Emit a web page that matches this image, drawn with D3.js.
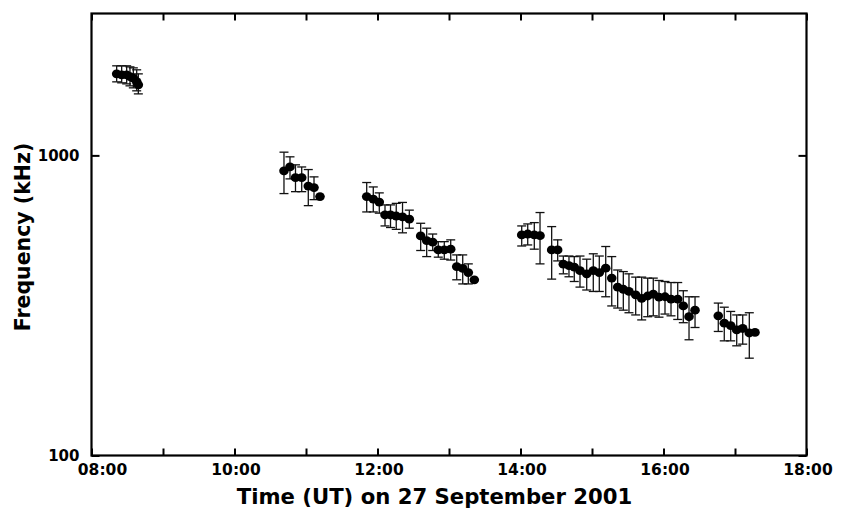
<!DOCTYPE html>
<html><head><meta charset="utf-8">
<script src="https://cdn.jsdelivr.net/npm/d3@7"></script>
<style>
html,body{margin:0;padding:0;background:#fff;}
svg text{font-family:"DejaVu Sans",sans-serif;font-weight:bold;fill:#000;}
</style></head>
<body><svg id="c" width="842" height="512"></svg>
<script>
// Decimal hours UT on 27 September 2001
const times = [
  8.352, 8.422, 8.492, 8.538, 8.585, 8.632, 8.655,
  10.692, 10.776, 10.853, 10.940, 11.032, 11.112, 11.196,
  11.849, 11.941, 12.025, 12.105, 12.182, 12.262, 12.350, 12.445,
  12.604, 12.688, 12.772, 12.850, 12.934, 13.024, 13.108, 13.192, 13.270, 13.354,
  14.017, 14.101, 14.193, 14.273,
  14.436, 14.520, 14.599, 14.678, 14.752, 14.832, 14.926, 15.018, 15.102, 15.192,
  15.276, 15.359, 15.438, 15.517, 15.611, 15.695, 15.779, 15.857, 15.937, 16.021,
  16.105, 16.199, 16.277, 16.357, 16.441,
  16.766, 16.850, 16.940, 17.024, 17.108, 17.200, 17.280
];
// Frequency (kHz)
const freqs = [
  1869, 1855, 1855, 1831, 1808, 1762, 1718,
  888, 915, 843, 843, 790, 781, 729,
  729, 715, 699, 634, 633, 628, 624, 613,
  539, 520, 514, 484, 484, 487, 426, 420, 407, 385,
  543, 547, 543, 540,
  484, 484, 434, 429, 424, 413, 403, 413, 407, 421,
  390, 364, 358, 352, 343, 334, 340, 345, 337, 338,
  332, 332, 315, 290, 305,
  292, 276, 271, 262, 265, 256, 257
];
// Error bar upper ends (kHz); null = no error bar
const upper = [
  1988, 1988, 1988, 1972, 1957, 1928, 1869,
  1025, 989, 930, 915, 897, 848, null,
  812, 785, 750, 684, 684, 692, 697, 657,
  594, 572, 547, 516, 516, 523, 466, 466, 435, null,
  582, 591, 597, 645,
  579, 523, 462, 462, 460, 462, 451, 470, 462, 497,
  460, 415, 410, 403, 393, 393, 390, 390, 383, 380,
  377, 377, 354, 338, 338,
  322, 312, 302, 294, 294, 299, null
];
// Error bar lower ends (kHz); null = no error bar
const lower = [
  1758, 1745, 1731, 1705, 1679, 1641, 1603,
  746, 835, 757, 757, 680, 712, null,
  648, 648, 642, 582, 575, 567, 552, 572,
  482, 460, 482, 458, 451, 448, 385, 373, 373, null,
  499, 503, 487, 435,
  387, 445, 403, 394, 380, 364, 356, 352, 352, 338,
  315, 310, 305, 299, 294, 283, 290, 292, 289, 296,
  292, 284, 277, 243, 267,
  259, 241, 241, 232, 235, 211, null
];
const xTickHours = [8,9,10,11,12,13,14,15,16,17,18];
const xLabelHours = [8,10,12,14,16,18];
const yTickValues = [100, 1000];
const xTitle = "Time (UT) on 27 September 2001";
const yTitle = "Frequency (kHz)";

const svg = d3.select("#c");
const L = 91.5, R = 806.5, T = 13.5, B = 455.5;

const x = d3.scaleLinear().domain([8, 18]).range([L, R]);
const y = d3.scaleLog().domain([100, 2970]).range([B, T]);

const fmtH = h => (h < 10 ? "0" : "") + h + ":00";

// error bars
const eb = svg.append("g").attr("stroke", "#111").attr("stroke-width", 1.3).attr("fill", "none");
times.forEach((t, i) => {
  if (upper[i] == null || lower[i] == null) return;
  const cx = x(t), y1 = y(upper[i]), y2 = y(lower[i]);
  eb.append("line").attr("x1", cx).attr("x2", cx).attr("y1", y1).attr("y2", y2);
  eb.append("line").attr("x1", cx - 4.5).attr("x2", cx + 4.5).attr("y1", y1).attr("y2", y1);
  eb.append("line").attr("x1", cx - 4.5).attr("x2", cx + 4.5).attr("y1", y2).attr("y2", y2);
});

// points
svg.append("g").selectAll("ellipse").data(times).join("ellipse")
  .attr("cx", d => x(d))
  .attr("cy", (d, i) => y(freqs[i]))
  .attr("rx", 4.8).attr("ry", 4.4)
  .attr("fill", "#000");

// axes
const axB = d3.axisBottom(x).tickValues(xTickHours).tickSizeInner(-7).tickSizeOuter(0)
  .tickFormat(h => xLabelHours.includes(h) ? fmtH(h) : "").tickPadding(8);
const gB = svg.append("g").attr("transform", `translate(0,${B})`).call(axB);
gB.selectAll("text").attr("font-size", 15.5).attr("dy", "0.71em")
  .attr("dx", d => d === 8 ? 10.5 : 1);

const axT = d3.axisTop(x).tickValues(xTickHours).tickSizeInner(-7).tickSizeOuter(0).tickFormat("");
svg.append("g").attr("transform", `translate(0,${T})`).call(axT);

const axL = d3.axisLeft(y).tickValues(yTickValues).tickSizeInner(-8).tickSizeOuter(0)
  .tickFormat(d3.format("d")).tickPadding(12);
const gL = svg.append("g").attr("transform", `translate(${L},0)`).call(axL);
gL.selectAll("text").attr("font-size", 15).attr("dy", "0.36em");

const axR = d3.axisRight(y).tickValues(yTickValues).tickSizeInner(-8).tickSizeOuter(0).tickFormat("");
svg.append("g").attr("transform", `translate(${R},0)`).call(axR);

svg.selectAll(".domain").remove();
svg.selectAll(".tick line").attr("stroke", "#000").attr("stroke-width", 2);

// frame
svg.append("rect").attr("x", L).attr("y", T).attr("width", R - L).attr("height", B - T)
  .attr("fill", "none").attr("stroke", "#000").attr("stroke-width", 2.2);

// titles
svg.append("text").attr("x", 434.5).attr("y", 504).attr("text-anchor", "middle")
  .attr("font-size", 21.2).text(xTitle);
svg.append("text").attr("transform", "translate(30,237) rotate(-90)").attr("text-anchor", "middle")
  .attr("font-size", 20.5).text(yTitle);
</script></body></html>
